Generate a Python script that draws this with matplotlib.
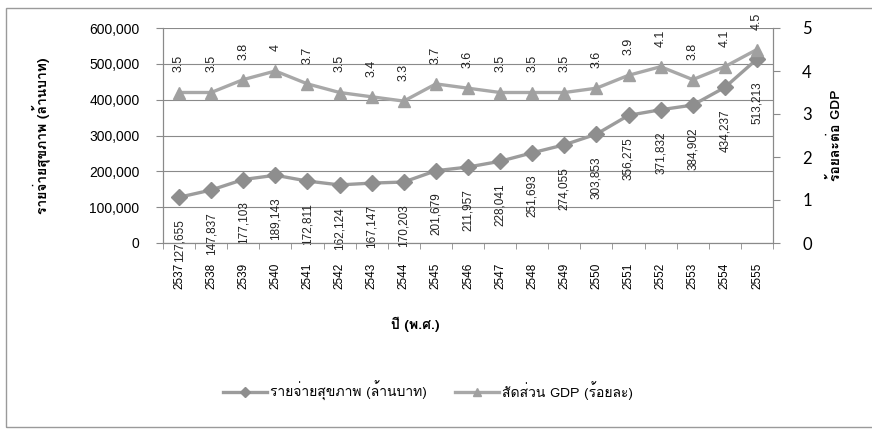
import matplotlib
matplotlib.use('Agg')
import matplotlib.pyplot as plt
from matplotlib import font_manager
from matplotlib.ft2font import FT2Font
from matplotlib.patches import Rectangle
from matplotlib.ticker import FuncFormatter, FixedLocator

# %% Data

years = ['2537', '2538', '2539', '2540', '2541', '2542', '2543', '2544', '2545', '2546',
         '2547', '2548', '2549', '2550', '2551', '2552', '2553', '2554', '2555']
health_exp = [127655, 147837, 177103, 189143, 172811, 162124, 167147, 170203, 201679, 211957,
              228041, 251693, 274055, 303853, 356275, 371832, 384902, 434237, 513213]
gdp_share = [3.5, 3.5, 3.8, 4, 3.7, 3.5, 3.4, 3.3, 3.7, 3.6,
             3.5, 3.5, 3.5, 3.6, 3.9, 4.1, 3.8, 4.1, 4.5]

lbl_health = 'รายจ่ายสุขภาพ (ล้านบาท)'
lbl_gdp = 'สัดส่วน GDP (ร้อยละ)'
lbl_right = 'ร้อยละต่อ GDP'
lbl_x = 'ปี (พ.ศ.)'

# %% Find a font that has Thai glyphs

def find_thai_font():
    names = []
    for f in font_manager.fontManager.ttflist:
        try:
            if FT2Font(f.fname).get_char_index(0x0E23):
                names.append(f.name)
        except Exception:
            pass
    return names[0] if names else 'DejaVu Sans'

thai = find_thai_font()
plt.rcParams['font.family'] = [thai, 'Liberation Sans', 'DejaVu Sans']

# %% Plot

W, H = 872, 429
fig = plt.figure(figsize=(W / 100, H / 100), dpi=100)
ax = fig.add_axes([163 / W, 1 - 243 / H, 610 / W, 215 / H])
ax2 = ax.twinx()

x = list(range(len(years)))
grey = '#8a8a8a'

ax.plot(x, health_exp, color='#9c9c9c', lw=2.4, marker='D', ms=8,
        mfc='#8e8e8e', mec='#8e8e8e', zorder=3, label=lbl_health)
ax2.plot(x, gdp_share, color='#a8a8a8', lw=2.4, marker='^', ms=9,
         mfc='#a0a0a0', mec='#a0a0a0', zorder=3, label=lbl_gdp)

ax.set_ylim(0, 600000)
ax.set_yticks(range(0, 600001, 100000))
ax.yaxis.set_major_formatter(FuncFormatter(lambda v, p: f'{int(v):,}'))
ax2.set_ylim(0, 5)
ax2.set_yticks(range(0, 6))
ax.set_xlim(-0.5, len(years) - 0.5)
ax.set_xticks(x)
ax.set_xticklabels(years, rotation=90, fontsize=8.5, family='Liberation Sans')
ax.xaxis.set_minor_locator(FixedLocator([i - 0.5 for i in range(len(years) + 1)]))
ax.tick_params(axis='x', which='major', length=0, pad=14)
ax.tick_params(axis='x', which='minor', length=4, color=grey)
ax.tick_params(axis='y', length=5, color=grey, labelsize=10, pad=12)
ax2.tick_params(axis='y', length=5, color=grey, labelsize=12, pad=16)
for t in ax.get_yticklabels():
    t.set_family('Liberation Sans')
for t in ax2.get_yticklabels():
    t.set_family('Lato')

ax.grid(axis='y', color=grey, lw=0.8)
ax.set_axisbelow(True)
for a in (ax, ax2):
    a.spines['top'].set_visible(False)
    for s in ('left', 'right', 'bottom'):
        a.spines[s].set_color(grey)
        a.spines[s].set_linewidth(0.8)

# data labels
for i, v in enumerate(health_exp):
    ax.annotate(f'{v:,}', (i, v), xytext=(0, -22), textcoords='offset pixels',
                rotation=90, ha='center', va='top', fontsize=8.5,
                family='Liberation Sans', color='#222222')
for i, v in enumerate(gdp_share):
    ax2.annotate(f'{v:g}', (i, v), xytext=(0, 20), textcoords='offset pixels',
                 rotation=90, ha='center', va='bottom', fontsize=9,
                 family='Liberation Sans', color='#222222')

ax.set_ylabel(lbl_health, fontsize=10, fontweight='bold')
ax.yaxis.set_label_coords((50 - 163) / 610, 0.5)
ax2.set_ylabel(lbl_right, fontsize=10, fontweight='bold')
ax2.yaxis.set_label_coords((828 - 163) / 610, 0.5)
fig.text(415 / W, 1 - 324 / H, lbl_x, ha='center', va='center', fontsize=10, fontweight='bold')

h1, l1 = ax.get_legend_handles_labels()
h2, l2 = ax2.get_legend_handles_labels()
fig.legend(h1 + h2, l1 + l2, loc='center', bbox_to_anchor=(428 / W, 1 - 391 / H),
           ncol=2, frameon=False, fontsize=10, handlelength=3.2, columnspacing=2.0,
           handletextpad=0.2, markerscale=0.7)

# outer chart frame
fig.add_artist(Rectangle((6 / W, 1 - 427 / H), 1.2, (427 - 8) / H, transform=fig.transFigure,
                         fill=False, ec='#9a9a9a', lw=1, clip_on=False))

fig.savefig('out.png', dpi=100)
